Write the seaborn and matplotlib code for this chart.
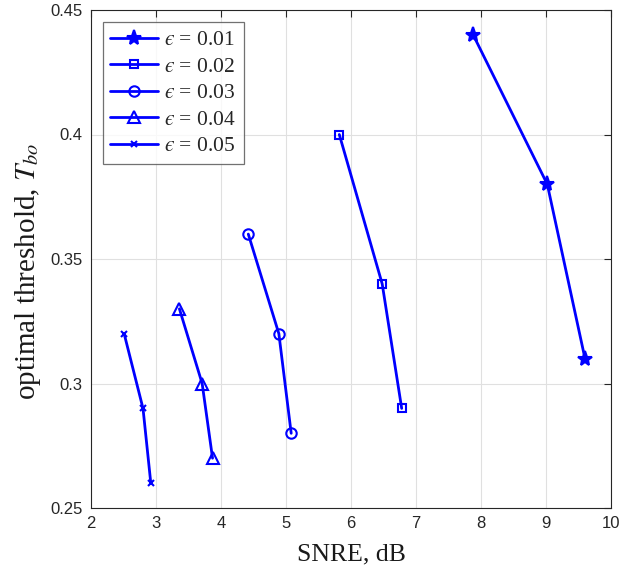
import matplotlib
matplotlib.use("Agg")
import matplotlib.pyplot as plt
import seaborn as sns
import pandas as pd

eps_labels = ["0.01", "0.02", "0.03", "0.04", "0.05"]
snre_001 = [7.88, 9.02, 9.60]
thr_001 = [0.44, 0.38, 0.31]
snre_002 = [5.82, 6.48, 6.78]
thr_002 = [0.40, 0.34, 0.29]
snre_003 = [4.42, 4.89, 5.08]
thr_003 = [0.36, 0.32, 0.28]
snre_004 = [3.36, 3.71, 3.87]
thr_004 = [0.33, 0.30, 0.27]
snre_005 = [2.51, 2.80, 2.92]
thr_005 = [0.32, 0.29, 0.26]

x_ticks = [2, 3, 4, 5, 6, 7, 8, 9, 10]
y_ticks = [0.25, 0.30, 0.35, 0.40, 0.45]
y_tick_labels = ["0.25", "0.3", "0.35", "0.4", "0.45"]

sns.set_style("white")
plt.rcParams["font.family"] = ["Liberation Sans", "DejaVu Sans"]
plt.rcParams["mathtext.fontset"] = "stix"

fig = plt.figure(figsize=(6.22, 5.72), dpi=100)
ax = fig.add_axes([91 / 622, 1 - 508 / 572, 520 / 622, 498 / 572])

series = [
    (snre_001, thr_001, "*", 11, "blue"),
    (snre_002, thr_002, "s", 6, "none"),
    (snre_003, thr_003, "o", 7.5, "none"),
    (snre_004, thr_004, "^", 8, "none"),
    (snre_005, thr_005, "x", 5, "blue"),
]

for lab, (xs, ys, mk, ms, fc) in zip(eps_labels, series):
    df = pd.DataFrame({"x": xs, "y": ys})
    sns.lineplot(data=df, x="x", y="y", ax=ax, color="blue", lw=2.0,
                 marker=mk, markersize=ms, markerfacecolor=fc,
                 markeredgecolor="blue", markeredgewidth=1.5,
                 sort=False, label="$\u03f5$ = " + lab)

ax.set_xlim(2, 10)
ax.set_ylim(0.25, 0.45)
ax.set_xticks(x_ticks)
ax.set_yticks(y_ticks)
ax.set_yticklabels(y_tick_labels)
ax.tick_params(direction="in", length=5, width=0.8, top=True, right=True,
               labelsize=12, colors="0.15", pad=6)
ax.grid(True, color="0.88", lw=0.8)
for s in ax.spines.values():
    s.set_color("0.15")
    s.set_linewidth(0.8)

serif = ["Liberation Serif", "DejaVu Serif"]
ax.set_xlabel("SNRE, dB", fontsize=18.5, family=serif, color="0.1", labelpad=9)
ax.set_ylabel(r"optimal threshold, $T_{bo}$", fontsize=21, family=serif,
              color="0.1")
ax.yaxis.set_label_coords(-0.093, 0.476)

leg = ax.legend(loc="upper left", bbox_to_anchor=(0.023, 0.975),
                prop={"family": serif, "size": 15.5}, frameon=True,
                fancybox=False, edgecolor="0.3", handlelength=2.2,
                labelspacing=0.3, borderpad=0.35, handletextpad=0.3,
                borderaxespad=0)
leg.get_frame().set_linewidth(0.9)

fig.savefig("out.png", dpi=100)
